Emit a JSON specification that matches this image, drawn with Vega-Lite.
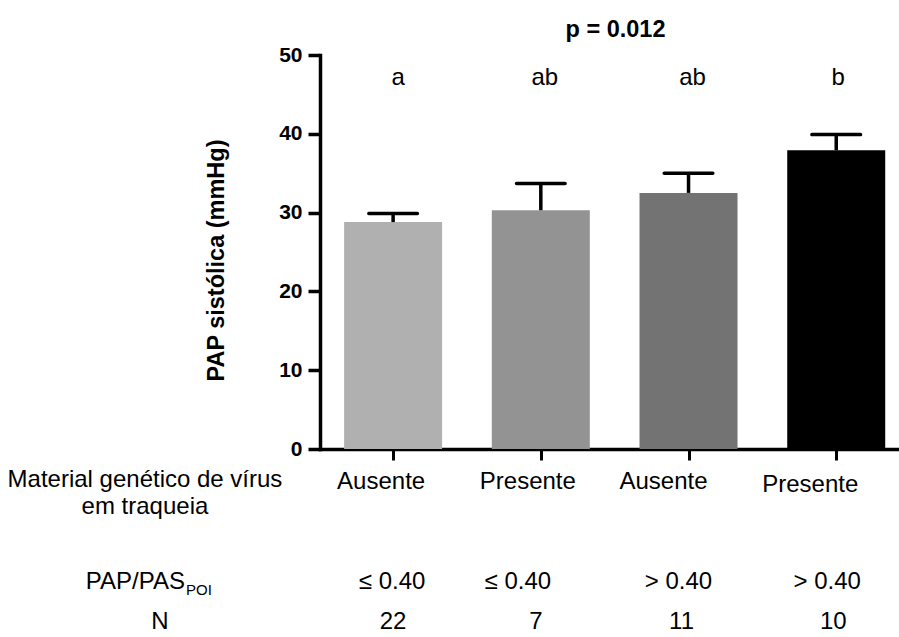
{
  "$schema": "https://vega.github.io/schema/vega-lite/v6.json",
  "width": 579,
  "height": 394,
  "autosize": {"type": "none"},
  "padding": {"left": 320, "top": 55, "right": 0, "bottom": 188},
  "background": "white",
  "config": {
    "view": {"stroke": null},
    "font": "Liberation Sans",
    "text": {"font": "Liberation Sans", "fontSize": 24, "color": "black", "baseline": "middle"}
  },
  "title": {
    "text": "p = 0.012",
    "font": "Liberation Sans",
    "fontSize": 23.5,
    "fontWeight": "bold",
    "color": "black",
    "anchor": "middle",
    "frame": "group",
    "baseline": "alphabetic",
    "offset": 20,
    "dy": 36,
    "dx": 6
  },
  "data": {
    "values": [
      {"pos": 1, "virus": "Ausente", "pap": "≤ 0.40", "n": 22, "media": 28.8, "sup": 29.9, "letra": "a"},
      {"pos": 2, "virus": "Presente", "pap": "≤ 0.40", "n": 7, "media": 30.3, "sup": 33.7, "letra": "ab"},
      {"pos": 3, "virus": "Ausente", "pap": "> 0.40", "n": 11, "media": 32.5, "sup": 35.0, "letra": "ab"},
      {"pos": 4, "virus": "Presente", "pap": "> 0.40", "n": 10, "media": 37.9, "sup": 39.9, "letra": "b"}
    ]
  },
  "layer": [
    {
      "mark": {"type": "bar", "orient": "vertical", "width": 98},
      "encoding": {
        "x": {
          "field": "pos",
          "type": "quantitative",
          "scale": {"domain": [0.505, 4.425], "nice": false, "zero": false, "padding": 0},
          "axis": {
            "values": [1, 2, 3, 4],
            "labels": false,
            "title": null,
            "grid": false,
            "domainColor": "black",
            "domainWidth": 3.5,
            "domainCap": "square",
            "tickColor": "black",
            "tickWidth": 3,
            "tickSize": 11
          }
        },
        "y": {
          "field": "media",
          "type": "quantitative",
          "scale": {"domain": [0, 50], "nice": false},
          "axis": {
            "values": [0, 10, 20, 30, 40, 50],
            "grid": false,
            "title": "PAP sistólica (mmHg)",
            "titleFont": "Liberation Sans",
            "titleFontSize": 23.5,
            "titleFontWeight": "bold",
            "titleColor": "black",
            "titlePadding": 50,
            "titleY": 205,
            "labelFont": "Liberation Sans",
            "labelFontSize": 21,
            "labelFontWeight": "bold",
            "labelColor": "black",
            "labelPadding": 6,
            "tickSize": 12,
            "tickWidth": 3.5,
            "tickColor": "black",
            "domainWidth": 3.5,
            "domainColor": "black",
            "domainCap": "square"
          }
        },
        "color": {
          "field": "pos",
          "type": "ordinal",
          "scale": {"range": ["#b0b0b1", "#939393", "#737373", "#000000"]},
          "legend": null
        }
      }
    },
    {
      "mark": {"type": "rule", "strokeWidth": 3.5, "color": "black"},
      "encoding": {
        "x": {"field": "pos", "type": "quantitative"},
        "y": {"field": "media", "type": "quantitative"},
        "y2": {"field": "sup"}
      }
    },
    {
      "mark": {"type": "tick", "orient": "horizontal", "size": 52, "thickness": 3.5, "color": "black", "opacity": 1, "cornerRadius": 1.7},
      "encoding": {
        "x": {"field": "pos", "type": "quantitative"},
        "y": {"field": "sup", "type": "quantitative"}
      }
    },
    {
      "mark": {"type": "text", "dx": {"expr": "[5, 4, 4, 2][datum.pos - 1]"}},
      "encoding": {
        "x": {"field": "pos", "type": "quantitative"},
        "y": {"datum": 47.1},
        "text": {"field": "letra"}
      }
    },
    {
      "mark": {"type": "text", "dx": {"expr": "[-12, -13, -25, -26][datum.pos - 1]"}, "dy": {"expr": "datum.pos == 4 ? 3 : 0"}},
      "encoding": {
        "x": {"field": "pos", "type": "quantitative"},
        "y": {"datum": -4.15},
        "text": {"field": "virus"}
      }
    },
    {
      "mark": {"type": "text", "dx": {"expr": "[-1, -23, -10, -9][datum.pos - 1]"}},
      "encoding": {
        "x": {"field": "pos", "type": "quantitative"},
        "y": {"datum": -16.93},
        "text": {"field": "pap"}
      }
    },
    {
      "mark": {"type": "text", "dx": {"expr": "[0, -5, -7, -3][datum.pos - 1]"}},
      "encoding": {
        "x": {"field": "pos", "type": "quantitative"},
        "y": {"datum": -21.9},
        "text": {"field": "n"}
      }
    },
    {
      "data": {"values": [{}]},
      "mark": {"type": "text", "text": "Material genético de vírus"},
      "encoding": {"x": {"datum": -0.68}, "y": {"datum": -3.89}}
    },
    {
      "data": {"values": [{}]},
      "mark": {"type": "text", "text": "em traqueia"},
      "encoding": {"x": {"datum": -0.68}, "y": {"datum": -7.3}}
    },
    {
      "data": {"values": [{}]},
      "mark": {"type": "text", "text": "PAP/PAS", "align": "right"},
      "encoding": {"x": {"datum": -0.409}, "y": {"datum": -16.93}}
    },
    {
      "data": {"values": [{}]},
      "mark": {"type": "text", "text": "POI", "align": "left", "fontSize": 15, "dx": 1},
      "encoding": {"x": {"datum": -0.409}, "y": {"datum": -17.9}}
    },
    {
      "data": {"values": [{}]},
      "mark": {"type": "text", "text": "N"},
      "encoding": {"x": {"datum": -0.578}, "y": {"datum": -21.9}}
    }
  ]
}
